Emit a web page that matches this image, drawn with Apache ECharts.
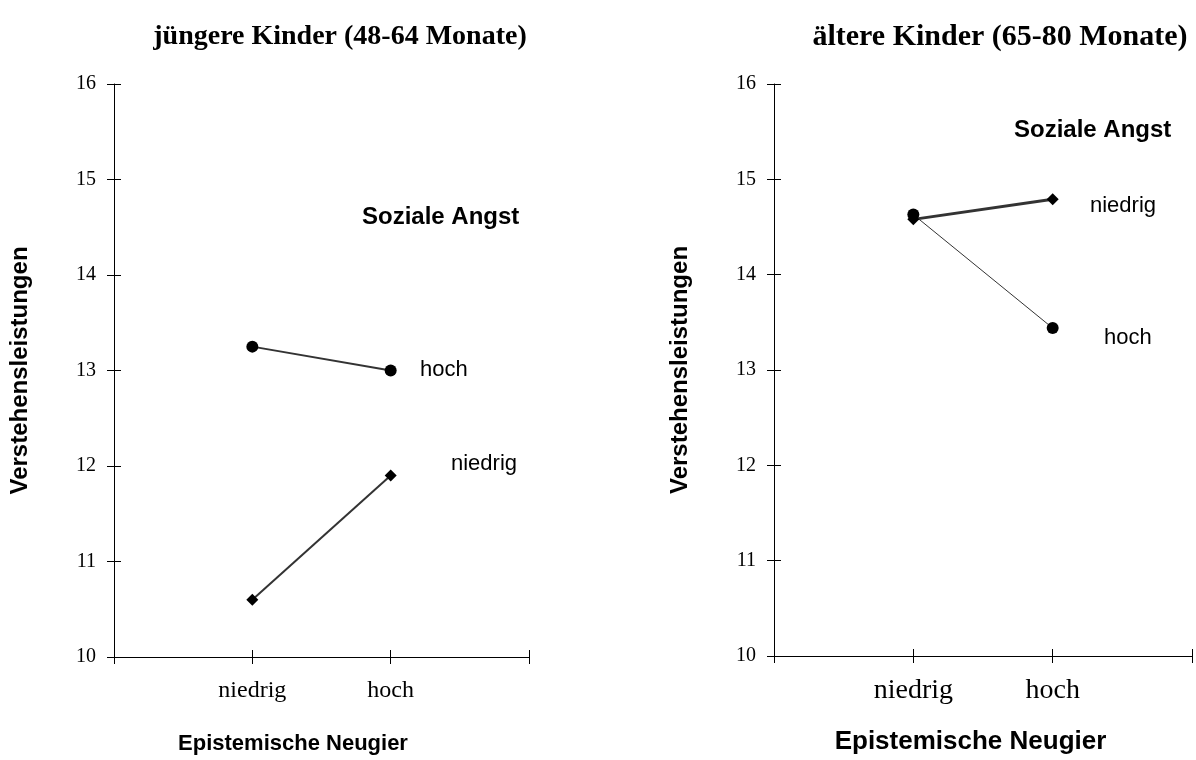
<!DOCTYPE html>
<html>
<head>
<meta charset="utf-8">
<script src="https://cdn.jsdelivr.net/npm/echarts@6/dist/echarts.min.js"></script>
<style>
  html, body { margin: 0; padding: 0; background: #fff; }
  #chart { width: 1196px; height: 760px; }
</style>
</head>
<body>
<div id="chart"></div>
<script>
// Daten
const categories = ["", "niedrig", "hoch", ""];
const yTicks = [10, 11, 12, 13, 14, 15, 16];
const titles = ["jüngere Kinder (48-64 Monate)", "ältere Kinder (65-80 Monate)"];
// jüngere Kinder
const youngHoch = [null, 13.25, 13.0, null];
const youngNiedrig = [null, 10.6, 11.9, null];
// ältere Kinder
const oldHoch = [null, 14.63, 13.44, null];
const oldNiedrig = [null, 14.58, 14.79, null];

const chart = echarts.init(document.getElementById("chart"));

const serif = "'Liberation Serif', 'Times New Roman', serif";
const sans = "'Liberation Sans', Arial, sans-serif";
const black = "#000";

function xAxes(gridIndex, labelSize, labelMargin, nameSize, nameGap, nameShift) {
  return [
    {
      gridIndex: gridIndex,
      type: "category",
      data: categories,
      boundaryGap: false,
      position: "bottom",
      name: "Epistemische Neugier",
      nameLocation: "middle",
      nameGap: nameGap,
      nameTextStyle: {
        fontFamily: sans, fontWeight: "bold", fontSize: nameSize, color: black,
        padding: [0, nameShift, 0, 0]
      },
      axisLine: { lineStyle: { color: black, width: 1 } },
      axisTick: { show: true, length: 7, alignWithLabel: true, lineStyle: { color: black } },
      axisLabel: { show: true, interval: 0, margin: labelMargin, fontFamily: serif, fontSize: labelSize, color: black },
      splitLine: { show: false }
    },
    {
      // innere Striche (Kreuz-Ticks)
      gridIndex: gridIndex,
      type: "category",
      data: categories,
      boundaryGap: false,
      position: "bottom",
      axisLine: { show: false },
      axisTick: { show: true, inside: true, length: 7, lineStyle: { color: black } },
      axisLabel: { show: false },
      splitLine: { show: false }
    }
  ];
}

function yAxes(gridIndex) {
  return [
    {
      gridIndex: gridIndex,
      type: "value",
      min: 10,
      max: 16,
      interval: 1,
      position: "left",
      name: "Verstehensleistungen",
      nameLocation: "middle",
      nameRotate: 90,
      nameGap: 82,
      nameTextStyle: { fontFamily: sans, fontWeight: "bold", fontSize: 24, color: black },
      axisLine: { show: true, lineStyle: { color: black, width: 1 } },
      axisTick: { show: true, length: 7, lineStyle: { color: black } },
      axisLabel: {
        margin: 18,
        fontFamily: serif,
        fontSize: 20,
        color: black,
        formatter: function (v) { return yTicks.indexOf(v) >= 0 ? String(v) : ""; }
      },
      splitLine: { show: false }
    },
    {
      gridIndex: gridIndex,
      type: "value",
      min: 10,
      max: 16,
      interval: 1,
      position: "left",
      axisLine: { show: false },
      axisTick: { show: true, inside: true, length: 7, lineStyle: { color: black } },
      axisLabel: { show: false },
      splitLine: { show: false }
    }
  ];
}

function line(name, data, xi, yi, symbol, width) {
  return {
    name: name,
    type: "line",
    xAxisIndex: xi,
    yAxisIndex: yi,
    data: data,
    symbol: symbol,
    symbolSize: 12,
    showSymbol: true,
    connectNulls: false,
    silent: true,
    animation: false,
    itemStyle: { color: black, borderWidth: 0 },
    lineStyle: { color: "#333", width: width }
  };
}

const annot = { fontFamily: sans, fontSize: 22, fill: black };
const annotBold = { fontFamily: sans, fontSize: 24, fontWeight: "bold", fill: black };

const option = {
  backgroundColor: "#fff",
  animation: false,
  title: [
    {
      text: titles[0],
      left: 335,
      top: 18,
      textAlign: "center",
      textStyle: { fontFamily: serif, fontWeight: "bold", fontSize: 28, color: black }
    },
    {
      text: titles[1],
      left: 995,
      top: 17,
      textAlign: "center",
      textStyle: { fontFamily: serif, fontWeight: "bold", fontSize: 30, color: black }
    }
  ],
  grid: [
    { left: 114, top: 84, width: 415, height: 573 },
    { left: 774, top: 84, width: 418, height: 573 }
  ],
  xAxis: xAxes(0, 24, 22, 22, 76, 57).concat(xAxes(1, 28, 21, 26, 73, 25)),
  yAxis: yAxes(0).concat(yAxes(1)),
  series: [
    line("hoch", youngHoch, 0, 0, "circle", 2),
    line("niedrig", youngNiedrig, 0, 0, "diamond", 2),
    line("hoch", oldHoch, 2, 2, "circle", 1),
    line("niedrig", oldNiedrig, 2, 2, "diamond", 3)
  ],
  graphic: [
    { type: "text", left: 362, top: 205, style: Object.assign({ text: "Soziale Angst" }, annotBold) },
    { type: "text", left: 420, top: 359, style: Object.assign({ text: "hoch" }, annot) },
    { type: "text", left: 451, top: 453, style: Object.assign({ text: "niedrig" }, annot) },
    { type: "text", left: 1014, top: 118, style: Object.assign({ text: "Soziale Angst" }, annotBold) },
    { type: "text", left: 1090, top: 195, style: Object.assign({ text: "niedrig" }, annot) },
    { type: "text", left: 1104, top: 327, style: Object.assign({ text: "hoch" }, annot) }
  ]
};

chart.setOption(option);
window.addEventListener("resize", () => {
  chart.resize();
});
</script>
</body>
</html>
